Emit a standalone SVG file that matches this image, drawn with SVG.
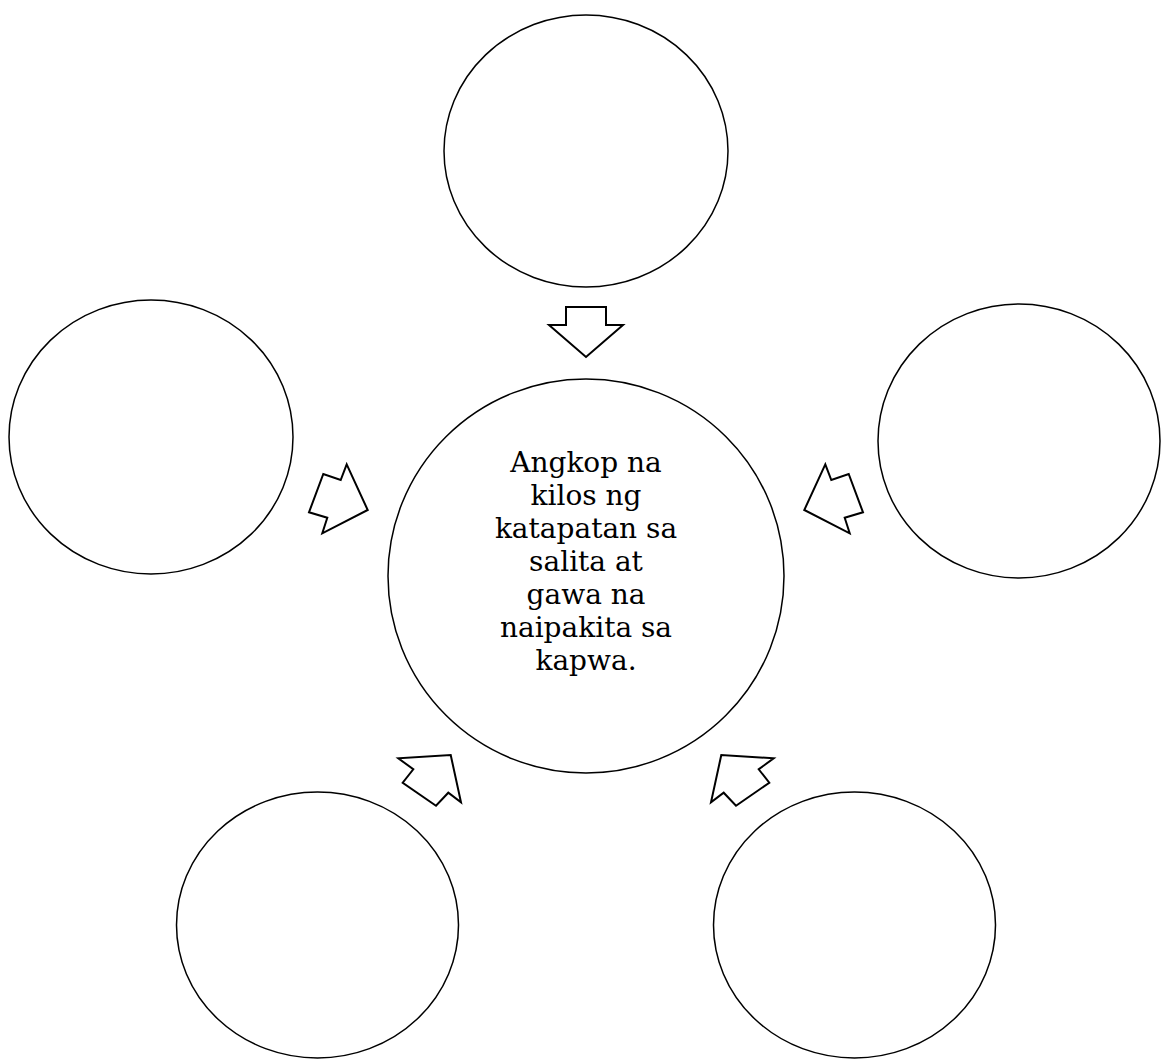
<svg xmlns="http://www.w3.org/2000/svg" width="1161" height="1063" viewBox="0 0 1161 1063">
<style>
.c{fill:#fff;stroke:#000;stroke-width:1.5}
.a{fill:#fff;stroke:#000;stroke-width:2;stroke-linejoin:miter}
.t{font-family:"DejaVu Serif",serif;font-size:28px;fill:#000;text-anchor:middle}
</style>
<rect width="1161" height="1063" fill="#fff"/>
<g id="connectors">
<polygon class="a" points="566,307 606,307 606,325 623,325 586,357 549,325 566,325"/>
<polygon class="a" points="346.7,464.3 367.7,510 322.3,533.3 327.3,517.7 309,512.3 323.3,474 340.7,480"/>
<polygon class="a" points="825.3,464.3 804.3,510 849.7,533.3 844.7,517.7 863,512.3 848.7,474 831.3,480"/>
<polygon class="a" points="450.7,755 461,802.3 448.3,792.7 436,805.7 402.7,782.7 413.3,769.3 398.3,758.3"/>
<polygon class="a" points="721.3,755 711,802.3 723.7,792.7 736,805.7 769.3,782.7 758.7,769.3 773.7,758.3"/>
</g>
<g id="node-top"><ellipse class="c" cx="586" cy="151" rx="142" ry="136"/></g>
<g id="node-left"><ellipse class="c" cx="151" cy="437" rx="142" ry="137"/></g>
<g id="node-right"><ellipse class="c" cx="1019" cy="441" rx="141" ry="137"/></g>
<g id="node-bottom-left"><ellipse class="c" cx="317.5" cy="925" rx="141" ry="133"/></g>
<g id="node-bottom-right"><ellipse class="c" cx="854.5" cy="925" rx="141" ry="133"/></g>
<g id="node-center">
<ellipse class="c" cx="586" cy="576" rx="198" ry="197"/>
<text class="t" x="586" y="472">Angkop na</text>
<text class="t" x="586" y="505">kilos ng</text>
<text class="t" x="586" y="538">katapatan sa</text>
<text class="t" x="586" y="571">salita at</text>
<text class="t" x="586" y="604">gawa na</text>
<text class="t" x="586" y="637">naipakita sa</text>
<text class="t" x="586" y="670">kapwa.</text>
</g>
</svg>
